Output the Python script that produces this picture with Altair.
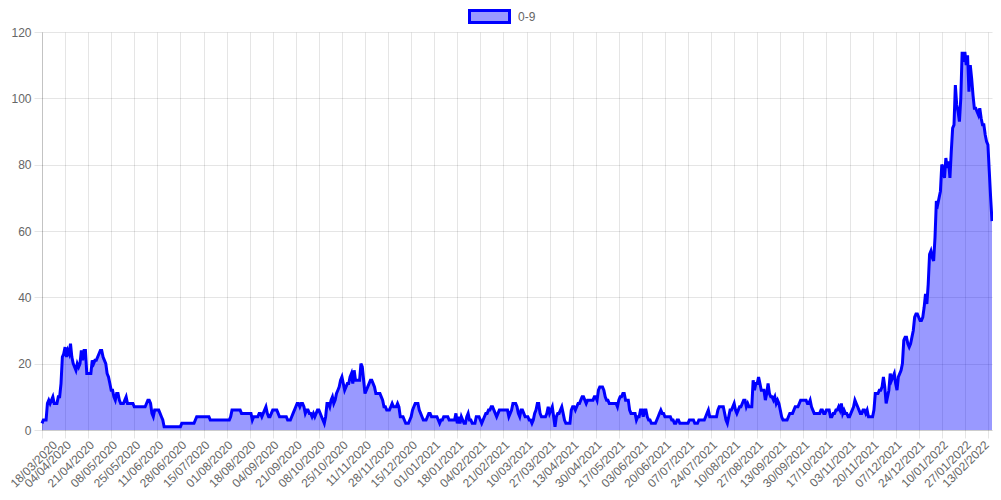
import altair as alt
import pandas as pd

series_name = "0-9"
start_date = "2020-03-18"

tick_labels = [
    "18/03/2020", "04/04/2020", "21/04/2020", "08/05/2020", "25/05/2020", "11/06/2020",
    "28/06/2020", "15/07/2020", "01/08/2020", "18/08/2020", "04/09/2020", "21/09/2020",
    "08/10/2020", "25/10/2020", "11/11/2020", "28/11/2020", "15/12/2020", "01/01/2021",
    "18/01/2021", "04/02/2021", "21/02/2021", "10/03/2021", "27/03/2021", "13/04/2021",
    "30/04/2021", "17/05/2021", "03/06/2021", "20/06/2021", "07/07/2021", "24/07/2021",
    "10/08/2021", "27/08/2021", "13/09/2021", "30/09/2021", "17/10/2021", "03/11/2021",
    "20/11/2021", "07/12/2021", "24/12/2021", "10/01/2022", "27/01/2022", "13/02/2022",
]

y_ticks = [0, 20, 40, 60, 80, 100, 120]

# daily values, one row per 17-day label interval
cases = [
    2, 3, 3, 3, 8, 9, 8, 9, 10, 8, 8, 8, 10, 10, 14, 22, 23,
    25, 22, 24, 23, 26, 22, 20, 19, 18, 20, 19, 20, 24, 21, 24, 24, 17,
    17, 17, 17, 21, 20, 21, 21, 22, 23, 24, 24, 22, 21, 20, 17, 16, 14,
    12, 12, 10, 9, 11, 11, 9, 8, 8, 8, 9, 10, 8, 8, 8, 8, 8,
    7, 7, 7, 7, 7, 7, 7, 7, 7, 8, 9, 9, 8, 5, 4, 6, 6,
    6, 6, 5, 4, 3, 1, 1, 1, 1, 1, 1, 1, 1, 1, 1, 1, 1,
    1, 2, 2, 2, 2, 2, 2, 2, 2, 2, 2, 3, 4, 4, 4, 4, 4,
    4, 4, 4, 4, 4, 3, 3, 3, 3, 3, 3, 3, 3, 3, 3, 3, 3,
    3, 3, 3, 4, 6, 6, 6, 6, 6, 6, 6, 5, 5, 5, 5, 5, 5,
    5, 5, 3, 4, 4, 4, 4, 5, 5, 4, 5, 6, 7, 5, 4, 4, 5,
    6, 6, 6, 6, 5, 4, 4, 4, 4, 4, 4, 3, 3, 3, 4, 5, 6,
    7, 8, 8, 7, 8, 8, 7, 5, 6, 6, 5, 5, 4, 5, 4, 5, 6,
    6, 5, 4, 3, 2, 4, 8, 8, 7, 9, 10, 8, 9, 11, 12, 13, 15,
    16, 14, 12, 13, 14, 14, 16, 17, 14, 18, 15, 15, 15, 15, 20, 19, 15,
    11, 12, 13, 14, 15, 15, 14, 13, 11, 11, 11, 11, 10, 9, 7, 7, 6,
    6, 6, 7, 8, 7, 7, 7, 8, 7, 4, 4, 4, 3, 2, 2, 2, 3,
    4, 6, 7, 8, 8, 8, 6, 5, 4, 3, 3, 3, 4, 5, 5, 4, 4,
    4, 4, 4, 3, 2, 3, 3, 4, 4, 4, 4, 3, 3, 3, 3, 3, 5,
    2, 4, 2, 4, 3, 2, 2, 4, 5, 3, 3, 2, 2, 2, 4, 4, 4,
    3, 2, 3, 4, 5, 5, 6, 6, 7, 7, 6, 5, 4, 5, 6, 6, 6,
    6, 6, 6, 6, 4, 5, 6, 8, 8, 8, 7, 5, 4, 6, 6, 5, 4,
    4, 4, 3, 3, 2, 3, 5, 6, 8, 8, 5, 4, 4, 4, 4, 5, 7,
    5, 6, 7, 4, 1, 4, 5, 5, 6, 7, 5, 3, 2, 2, 2, 2, 6,
    7, 7, 6, 7, 8, 8, 9, 10, 10, 9, 8, 9, 9, 9, 9, 9, 10,
    10, 9, 12, 13, 13, 13, 12, 10, 9, 9, 8, 8, 8, 8, 8, 8, 7,
    9, 10, 10, 11, 11, 9, 9, 9, 6, 5, 5, 5, 5, 3, 4, 4, 6,
    6, 4, 6, 6, 4, 3, 3, 2, 2, 2, 2, 3, 4, 5, 6, 5, 5,
    4, 4, 4, 4, 4, 3, 3, 2, 2, 3, 3, 2, 2, 2, 2, 2, 2,
    2, 3, 3, 3, 3, 2, 2, 2, 3, 3, 3, 3, 3, 4, 5, 6, 4,
    4, 4, 4, 4, 4, 6, 7, 7, 7, 7, 5, 3, 2, 4, 6, 6, 7,
    8, 6, 5, 6, 7, 7, 8, 9, 9, 7, 8, 7, 7, 7, 15, 12, 14,
    14, 16, 14, 12, 12, 12, 9, 11, 14, 11, 10, 10, 9, 10, 8, 9, 8,
    6, 4, 3, 3, 3, 3, 4, 5, 5, 5, 6, 7, 7, 7, 8, 9, 9,
    9, 9, 9, 8, 8, 9, 7, 6, 5, 5, 5, 5, 5, 6, 6, 5, 5,
    6, 6, 6, 4, 4, 5, 5, 6, 6, 7, 6, 8, 5, 6, 5, 5, 4,
    4, 5, 6, 7, 9, 8, 7, 6, 5, 5, 6, 6, 5, 6, 4, 4, 4,
    4, 6, 11, 11, 11, 12, 12, 13, 16, 13, 8, 10, 12, 17, 15, 16, 17,
    14, 12, 16, 17, 18, 20, 27, 28, 28, 26, 25, 26, 28, 30, 34, 35, 35,
    34, 33, 33, 34, 37, 41, 38, 44, 53, 54, 52, 51, 58, 69, 68, 70, 72,
    80, 79, 76, 82, 79, 81, 76, 84, 91, 92, 104, 98, 96, 93, 100, 114, 111,
    114, 110, 113, 102, 110, 106, 101, 97, 97, 96, 95, 97, 94, 92, 92, 89, 87,
    86, 78, 70, 63,
]

dates = pd.date_range(start_date, periods=len(cases), freq="D").strftime("%d/%m/%Y").tolist()
df = pd.DataFrame({"date": dates, "cases": cases, "series": series_name})

FONT = "Liberation Sans"
GRID = "rgba(0,0,0,0.1)"
first_label_test = "datum.value === '" + tick_labels[0] + "'"
last_label_test = "datum.value === '" + tick_labels[-1] + "'"

x_enc = alt.X(
    "date:O",
    sort=None,
    scale=alt.Scale(type="point", padding=0),
    axis=alt.Axis(
        title=None,
        values=tick_labels,
        labelAngle=-45,
        labelAlign="right",
        labelBaseline="top",
        labelPadding=1,
        labelOffset={
            "condition": [
                {"test": first_label_test, "value": 9},
                {"test": last_label_test, "value": -5},
            ],
            "value": 0,
        },
        labelFont=FONT,
        labelFontSize=12,
        labelColor="#666666",
        grid=True,
        gridColor=GRID,
        tickColor=GRID,
        tickSize=8,
        domainColor=GRID,
        labelOverlap=False,
    ),
)
y_enc = alt.Y(
    "cases:Q",
    stack=None,
    scale=alt.Scale(domain=[0, 120], nice=False),
    axis=alt.Axis(
        title=None,
        values=y_ticks,
        labelFont=FONT,
        labelFontSize=12,
        labelColor="#666666",
        grid=True,
        gridColor=GRID,
        tickColor=GRID,
        tickSize=8,
        labelPadding=3,
        domainColor="rgba(0,0,0,0.15)",
    ),
)

base = alt.Chart(df)

area = base.mark_area(interpolate="linear").encode(
    x=x_enc,
    y=y_enc,
    color=alt.Color(
        "series:N",
        scale=alt.Scale(range=["rgba(0,0,255,0.4)"]),
        legend=alt.Legend(
            title=None,
            orient="none",
            legendX=426,
            legendY=-37,
            symbolType="M-1,-0.3H1V0.3H-1Z",
            symbolSize=1600,
            symbolStrokeColor="#0000ff",
            symbolStrokeWidth=3,
            symbolOpacity=1,
            labelFont=FONT,
            labelFontSize=12,
            labelColor="#666666",
            labelOffset=7,
            padding=0,
        ),
    ),
)

line = base.mark_line(color="#0000ff", strokeWidth=3).encode(x=x_enc, y=y_enc)

chart = (
    alt.layer(area, line)
    .properties(
        width=950,
        height=398,
        background="white",
        autosize=alt.AutoSizeParams(type="none"),
        padding={"left": 34, "top": 24, "right": 1, "bottom": 62},
    )
    .configure_view(stroke=None)
)

chart.save("out.html", embed_options={"renderer": "svg", "actions": False})
